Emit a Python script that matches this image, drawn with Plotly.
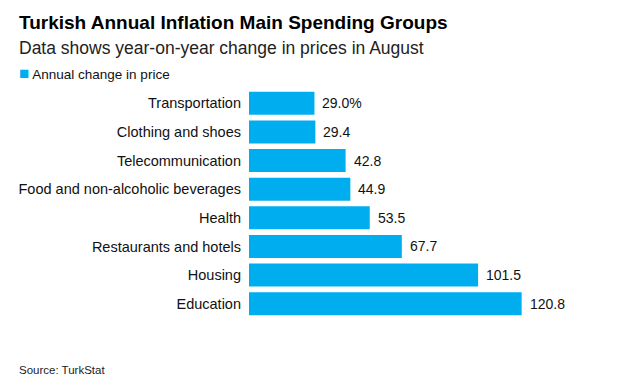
import plotly.graph_objects as go

categories = ["Transportation", "Clothing and shoes", "Telecommunication",
              "Food and non-alcoholic beverages", "Health", "Restaurants and hotels",
              "Housing", "Education"]
values = [29.0, 29.4, 42.8, 44.9, 53.5, 67.7, 101.5, 120.8]
labels = ["29.0%", "29.4", "42.8", "44.9", "53.5", "67.7", "101.5", "120.8"]

FONT = "Liberation Sans, Arial, sans-serif"
BLUE = "#00aef0"
W, H = 619, 388
L, R, T, B = 249, 54, 89, 70
PW, PH = W - L - R, H - T - B


def px(x):
    return (x - L) / PW


def py(y):
    return 1 - (y - T) / PH


fig = go.Figure()
fig.add_trace(go.Bar(
    x=values, y=categories, orientation="h",
    marker=dict(color=BLUE, line=dict(width=0)),
    name="Annual change in price",
    hoverinfo="x+y",
    showlegend=False,
))

for c, v, t in zip(categories, values, labels):
    fig.add_annotation(x=v, y=c, text=t, xanchor="left", yanchor="middle",
                       xshift=6, showarrow=False,
                       font=dict(family=FONT, size=14, color="#111"))

fig.update_layout(
    width=W, height=H,
    margin=dict(l=L, r=R, t=T, b=B, autoexpand=False),
    paper_bgcolor="white", plot_bgcolor="white",
    bargap=0.2,
    font=dict(family=FONT, color="#111"),
    showlegend=False,
    xaxis=dict(range=[0, 140], visible=False, fixedrange=True, automargin=False),
    yaxis=dict(autorange="reversed", showgrid=False, showline=False, ticks="",
               automargin=False, ticklabelstandoff=7,
               tickfont=dict(size=14.5, family=FONT, color="#111")),
)

fig.add_annotation(text="<b>Turkish Annual Inflation Main Spending Groups</b>",
                   xref="paper", yref="paper", x=px(17), y=py(22),
                   showarrow=False, xanchor="left", yanchor="middle",
                   font=dict(size=19, family=FONT, color="#000"))
fig.add_annotation(text="Data shows year-on-year change in prices in August",
                   xref="paper", yref="paper", x=px(17), y=py(48),
                   showarrow=False, xanchor="left", yanchor="middle",
                   font=dict(size=17.5, family=FONT, color="#222"))
fig.add_annotation(text="<span style='color:%s;font-size:17px'>■</span> Annual change in price" % BLUE,
                   xref="paper", yref="paper", x=px(17), y=py(74),
                   showarrow=False, xanchor="left", yanchor="middle",
                   font=dict(size=13.5, family=FONT, color="#111"))
fig.add_annotation(text="Source: TurkStat",
                   xref="paper", yref="paper", x=px(17), y=py(370),
                   showarrow=False, xanchor="left", yanchor="middle",
                   font=dict(size=11.5, family=FONT, color="#222"))

fig.write_html("out.html", config={"displayModeBar": False},
               post_script="document.body.style.margin='0';document.body.style.padding='0';")
